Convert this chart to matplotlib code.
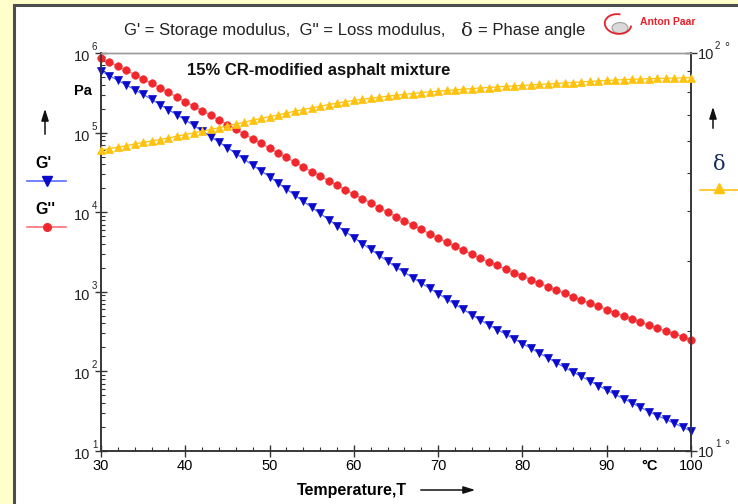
import matplotlib
matplotlib.use('Agg')
import matplotlib.pyplot as plt
from matplotlib.patches import Rectangle, Circle, Arc
from matplotlib.lines import Line2D
from matplotlib.ticker import FixedLocator, NullFormatter, MultipleLocator

plt.rcParams['font.family'] = ['Liberation Sans', 'DejaVu Sans']

# ---------------- data ----------------
temperature = list(range(30, 101))  # °C

g_storage = [  # G' (Pa)
    5.94e5, 5.19e5, 4.53e5, 3.95e5, 3.46e5, 3.02e5, 2.61e5, 2.25e5, 1.94e5, 1.675e5,
    1.445e5, 1.23e5, 1.047e5, 8.91e4, 7.59e4, 6.46e4, 5.46e4, 4.61e4, 3.90e4, 3.30e4,
    2.79e4, 2.33e4, 1.95e4, 1.64e4, 1.37e4, 1.15e4, 9.64e3, 8.09e3, 6.79e3, 5.70e3,
    4.79e3, 4.04e3, 3.40e3, 2.87e3, 2.42e3, 2.04e3, 1.75e3, 1.50e3, 1.29e3, 1.105e3,
    948, 815, 698, 600, 514, 442, 385, 336, 294, 256,
    224, 195, 170, 148, 129, 112, 98.4, 86.3, 75.7, 66.4,
    58.2, 51.4, 45.4, 40.1, 35.4, 31.3, 27.9, 25.0, 22.3, 20.0,
    17.8]

g_loss = [  # G'' (Pa)
    8.71e5, 7.71e5, 6.82e5, 6.04e5, 5.35e5, 4.73e5, 4.15e5, 3.64e5, 3.19e5, 2.80e5,
    2.45e5, 2.15e5, 1.88e5, 1.645e5, 1.44e5, 1.26e5, 1.10e5, 9.59e4, 8.37e4, 7.31e4,
    6.38e4, 5.57e4, 4.87e4, 4.25e4, 3.71e4, 3.24e4, 2.84e4, 2.49e4, 2.18e4, 1.91e4,
    1.68e4, 1.48e4, 1.30e4, 1.14e4, 1.00e4, 8.81e3, 7.78e3, 6.87e3, 6.07e3, 5.36e3,
    4.73e3, 4.21e3, 3.74e3, 3.33e3, 2.96e3, 2.63e3, 2.37e3, 2.14e3, 1.93e3, 1.74e3,
    1.57e3, 1.42e3, 1.285e3, 1.165e3, 1.054e3, 955, 869, 791, 719, 655,
    596, 544, 498, 455, 416, 380, 350, 322, 296, 273,
    251]

phase_angle = [  # delta (°)
    57.0, 57.5, 58.0, 58.5, 59.1, 59.6, 60.1, 60.6, 61.2, 61.8,
    62.4, 63.0, 63.6, 64.3, 64.9, 65.6, 66.3, 67.0, 67.8, 68.5,
    69.2, 69.9, 70.7, 71.4, 72.1, 72.8, 73.5, 74.2, 74.8, 75.4,
    76.0, 76.5, 77.0, 77.4, 77.9, 78.3, 78.7, 79.1, 79.5, 79.9,
    80.2, 80.5, 80.8, 81.1, 81.4, 81.7, 81.9, 82.2, 82.4, 82.7,
    82.9, 83.1, 83.4, 83.6, 83.9, 84.1, 84.3, 84.6, 84.8, 85.1,
    85.3, 85.5, 85.7, 85.9, 86.0, 86.2, 86.3, 86.4, 86.5, 86.6,
    86.7]

x_ticks = [30, 40, 50, 60, 70, 80, 90, 100]
left_exponents = [1, 2, 3, 4, 5, 6]
right_exponents = [1, 2]

title_part1 = "G' = Storage modulus,  G'' = Loss modulus,"
title_part2 = "= Phase angle"
subtitle_text = "15% CR-modified asphalt mixture"

# ---------------- styling ----------------
W, H = 738, 504
BLUE = '#0A0ACC'
BLUE_LINE = '#5A6CFF'
RED = '#F0282D'
RED_LINE = '#FF7070'
YEL = '#FFC20E'


def fx(px):
    return px / W


def fy(py):
    return 1 - py / H


fig = plt.figure(figsize=(W / 100, H / 100), dpi=100)
fig.patch.set_facecolor('#FFFFCC')

panel = Rectangle((fx(14), -0.2), 1.5, fy(5) + 0.2, transform=fig.transFigure,
                  facecolor='white', edgecolor='#4d4d4d', linewidth=2.2, zorder=-10)
fig.add_artist(panel)

ax = fig.add_axes([fx(101), fy(451), fx(590), 398 / H])
ax.set_facecolor('none')
ax.set_yscale('log')
ax.set_xlim(30, 100)
ax.set_ylim(10, 1e6)

ax2 = ax.twinx()
ax2.set_yscale('log')
ax2.set_ylim(10, 100)

# curves
ax.plot(temperature, g_loss, color=RED_LINE, lw=0.9, marker='o', ms=5.4,
        mfc=RED, mec=RED, mew=0.5, clip_on=False, zorder=5)
ax.plot(temperature, g_storage, color=BLUE_LINE, lw=0.9, marker='v', ms=6.2,
        mfc=BLUE, mec=BLUE, mew=0.5, clip_on=False, zorder=5)
ax2.plot(temperature, phase_angle, color=YEL, lw=0.9, marker='^', ms=6.2,
         mfc=YEL, mec=YEL, mew=0.5, clip_on=False, zorder=5)

# spines
for a in (ax, ax2):
    a.spines['top'].set_color('#9a9a9a')
    a.spines['top'].set_linewidth(1.0)
    for s in ('left', 'right', 'bottom'):
        a.spines[s].set_color('#333333')
        a.spines[s].set_linewidth(1.1)

# x ticks
ax.xaxis.set_major_locator(FixedLocator(x_ticks))
ax.xaxis.set_minor_locator(MultipleLocator(2))
ax.tick_params(axis='x', which='major', direction='inout', length=8, width=1,
               color='#333333', labelsize=10.5, pad=2)
ax.tick_params(axis='x', which='minor', direction='in', length=3, width=0.8,
               color='#333333')
ax.set_xticklabels([str(t) for t in x_ticks])

# left y ticks
ax.yaxis.set_major_locator(FixedLocator([10.0 ** e for e in left_exponents]))
ax.yaxis.set_minor_locator(FixedLocator(
    [m * 10.0 ** e for e in left_exponents[:-1] for m in range(2, 10)]))
ax.yaxis.set_major_formatter(NullFormatter())
ax.yaxis.set_minor_formatter(NullFormatter())
ax.tick_params(axis='y', which='major', direction='inout', length=8, width=1,
               color='#333333')
ax.tick_params(axis='y', which='minor', direction='in', length=3, width=0.8,
               color='#333333')

# right y ticks
ax2.yaxis.set_major_locator(FixedLocator([10.0 ** e for e in right_exponents]))
ax2.yaxis.set_minor_locator(FixedLocator([m * 10.0 for m in range(2, 10)]))
ax2.yaxis.set_major_formatter(NullFormatter())
ax2.yaxis.set_minor_formatter(NullFormatter())
ax2.tick_params(axis='y', which='major', direction='inout', length=8, width=1,
                color='#333333')
ax2.tick_params(axis='y', which='minor', direction='in', length=3, width=0.8,
                color='#333333')

# left tick labels "10" with raised exponent
ytr = ax.get_yaxis_transform()
for e in left_exponents:
    v = 10.0 ** e
    ax.annotate('10', xy=(0, v), xycoords=ytr, xytext=(-11, -4),
                textcoords='offset pixels', ha='right', va='center',
                fontsize=10.5, color='#222222', annotation_clip=False)
    ax.annotate(str(e), xy=(0, v), xycoords=ytr, xytext=(-9, 6),
                textcoords='offset pixels', ha='left', va='center',
                fontsize=7, color='#222222', annotation_clip=False)

ytr2 = ax2.get_yaxis_transform()
for e in right_exponents:
    v = 10.0 ** e
    ax2.annotate('10', xy=(1, v), xycoords=ytr2, xytext=(7, -2),
                 textcoords='offset pixels', ha='left', va='center',
                 fontsize=10.5, color='#222222', annotation_clip=False)
    ax2.annotate(str(e), xy=(1, v), xycoords=ytr2, xytext=(24, 7),
                 textcoords='offset pixels', ha='left', va='center',
                 fontsize=7, color='#222222', annotation_clip=False)
    ax2.annotate('°', xy=(1, v), xycoords=ytr2, xytext=(33, 5),
                 textcoords='offset pixels', ha='left', va='center',
                 fontsize=9, color='#222222', annotation_clip=False)

# ---------------- texts ----------------
fig.text(fx(124), fy(30), title_part1, fontsize=12, ha='left', va='center', color='#222222')
fig.text(fx(461), fy(31), 'δ', fontsize=14, ha='left', va='center', color='#222222',
         family=['DejaVu Serif'])
fig.text(fx(478), fy(30), title_part2, fontsize=12, ha='left', va='center', color='#222222')

fig.text(fx(187), fy(71), subtitle_text, fontsize=12, fontweight='bold',
         ha='left', va='center', color='#111111')

fig.text(fx(83), fy(91), 'Pa', fontsize=10.5, fontweight='bold', ha='center', va='center')
fig.text(fx(44), fy(163), "G'", fontsize=11.5, fontweight='bold', ha='center', va='center')
fig.text(fx(45), fy(209), "G''", fontsize=11.5, fontweight='bold', ha='center', va='center')
fig.text(fx(719), fy(164), 'δ', fontsize=15, ha='center', va='center', color='#1a2a5a',
         family=['DejaVu Serif'])

fig.text(fx(352), fy(490), 'Temperature,T', fontsize=11.5, fontweight='bold',
         ha='center', va='center')
fig.text(fx(650), fy(466), '°C', fontsize=10.5, fontweight='bold', ha='center', va='center')

# arrows
ax.annotate('', xy=(fx(45), fy(106)), xytext=(fx(45), fy(137)), xycoords='figure fraction',
            textcoords='figure fraction',
            arrowprops=dict(arrowstyle='-|>,head_length=0.7,head_width=0.22', color='#111111', lw=1.1))
ax.annotate('', xy=(fx(713), fy(104)), xytext=(fx(713), fy(131)), xycoords='figure fraction',
            textcoords='figure fraction',
            arrowprops=dict(arrowstyle='-|>,head_length=0.7,head_width=0.22', color='#111111', lw=1.1))
ax.annotate('', xy=(fx(478), fy(490)), xytext=(fx(418), fy(490)), xycoords='figure fraction',
            textcoords='figure fraction',
            arrowprops=dict(arrowstyle='-|>,head_length=0.7,head_width=0.22', color='#111111', lw=1.1))

# legend samples
fig.add_artist(Line2D([fx(27), fx(66)], [fy(181), fy(181)], color=BLUE_LINE, lw=1.2))
fig.add_artist(Line2D([fx(47)], [fy(181)], marker='v', ms=6.5, color=BLUE, lw=0))
fig.add_artist(Line2D([fx(27), fx(66)], [fy(227), fy(227)], color=RED_LINE, lw=1.2))
fig.add_artist(Line2D([fx(47)], [fy(227)], marker='o', ms=5.5, color=RED, lw=0))
fig.add_artist(Line2D([fx(700), fx(740)], [fy(190), fy(190)], color=YEL, lw=1.2))
fig.add_artist(Line2D([fx(719)], [fy(188)], marker='^', ms=6.5, color=YEL, lw=0))

# logo
fig.add_artist(Circle((fx(620), fy(28)), 8 / W, transform=fig.transFigure,
                      facecolor='#d9d9d9', edgecolor='#a0a0a0', lw=0.8))
fig.add_artist(Arc((fx(618), fy(24)), 26 / W, 20 / H, angle=20, theta1=60, theta2=330,
                   transform=fig.transFigure, color='#e8202a', lw=1.3))
fig.text(fx(640), fy(22), 'Anton Paar', fontsize=7.5, fontweight='bold', color='#e8202a',
         ha='left', va='center')

fig.savefig('out.png', dpi=100, facecolor=fig.get_facecolor())
